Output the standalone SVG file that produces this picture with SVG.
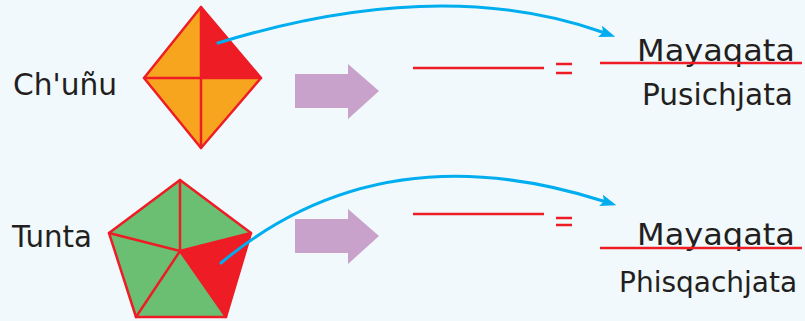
<svg xmlns="http://www.w3.org/2000/svg" width="805" height="321" viewBox="0 0 805 321">
<style>
.t{font-family:"DejaVu Sans","Liberation Sans",sans-serif;font-size:30px;fill:#231F20}
.edge{stroke:#EE1C25;stroke-width:2.5;stroke-linejoin:round;stroke-linecap:round}
.rl{stroke:#EE1C25;stroke-width:2.5;fill:none}
.blue{stroke:#00AEEF;stroke-width:3;fill:none;stroke-linecap:round}
.pa{fill:#C8A2CA}
</style>
<defs>
<marker id="ah" viewBox="0 0 16 12" refX="2" refY="6" markerWidth="16" markerHeight="12" markerUnits="userSpaceOnUse" orient="auto">
<path d="M0,0 L16,6 L0,12 L3,6 Z" fill="#00AEEF"/>
</marker>
</defs>
<rect width="805" height="321" fill="#F1F9FC"/>
<g id="diamond">
<polygon points="201,7 261,78 201,148 144,78" fill="#F7A51E"/>
<polygon points="201,7 261,78 201,78" fill="#EE1C25"/>
<polygon points="201,7 261,78 201,148 144,78" fill="none" class="edge"/>
<line x1="201" y1="7" x2="201" y2="148" class="edge"/>
<line x1="144" y1="78" x2="261" y2="78" class="edge"/>
</g>
<g id="pentagon">
<polygon points="180,180 251,233 226,317 136,317 109,233" fill="#6BBF73"/>
<polygon points="180,251 251,233 226,317" fill="#EE1C25"/>
<polygon points="180,180 251,233 226,317 136,317 109,233" fill="none" class="edge"/>
<path d="M180,251 L180,180 M180,251 L251,233 M180,251 L226,317 M180,251 L136,317 M180,251 L109,233" class="edge" fill="none"/>
</g>
<g id="label-chunu"><text class="t" x="13" y="95" textLength="104" lengthAdjust="spacingAndGlyphs">Ch'uñu</text></g>
<g id="label-tunta"><text class="t" x="12" y="247" textLength="80" lengthAdjust="spacingAndGlyphs">Tunta</text></g>
<g id="bigarrow1"><polygon class="pa" points="295,74 348,74 348,64 379,91 348,119 348,108 295,108"/></g>
<g id="bigarrow2"><polygon class="pa" points="295,219 348,219 348,209 379,236 348,264 348,253 295,253"/></g>
<g id="answer1">
<line x1="413" y1="68" x2="544" y2="68" class="rl"/>
<line x1="556" y1="64" x2="572" y2="64" class="rl" stroke-width="3"/>
<line x1="556" y1="73" x2="572" y2="73" class="rl" stroke-width="3"/>
<text class="t" x="637" y="61" textLength="158" lengthAdjust="spacingAndGlyphs">Mayaqata</text>
<line x1="600" y1="63" x2="802" y2="63" class="rl"/>
<text class="t" x="642" y="105" textLength="151" lengthAdjust="spacingAndGlyphs">Pusichjata</text>
</g>
<g id="answer2">
<line x1="413" y1="214" x2="544" y2="214" class="rl"/>
<line x1="556" y1="218" x2="572" y2="218" class="rl" stroke-width="3"/>
<line x1="556" y1="225" x2="572" y2="225" class="rl" stroke-width="3"/>
<text class="t" x="637" y="245" textLength="158" lengthAdjust="spacingAndGlyphs">Mayaqata</text>
<line x1="600" y1="248" x2="802" y2="248" class="rl"/>
<text class="t" x="619" y="292" style="font-size:28px">Phisqachjata</text>
</g>
<g id="connectors">
<path class="blue" d="M218,43 Q440,-25 602,32" marker-end="url(#ah)"/>
<path class="blue" d="M221,263 Q380,130 603,201" marker-end="url(#ah)"/>
</g>
</svg>
